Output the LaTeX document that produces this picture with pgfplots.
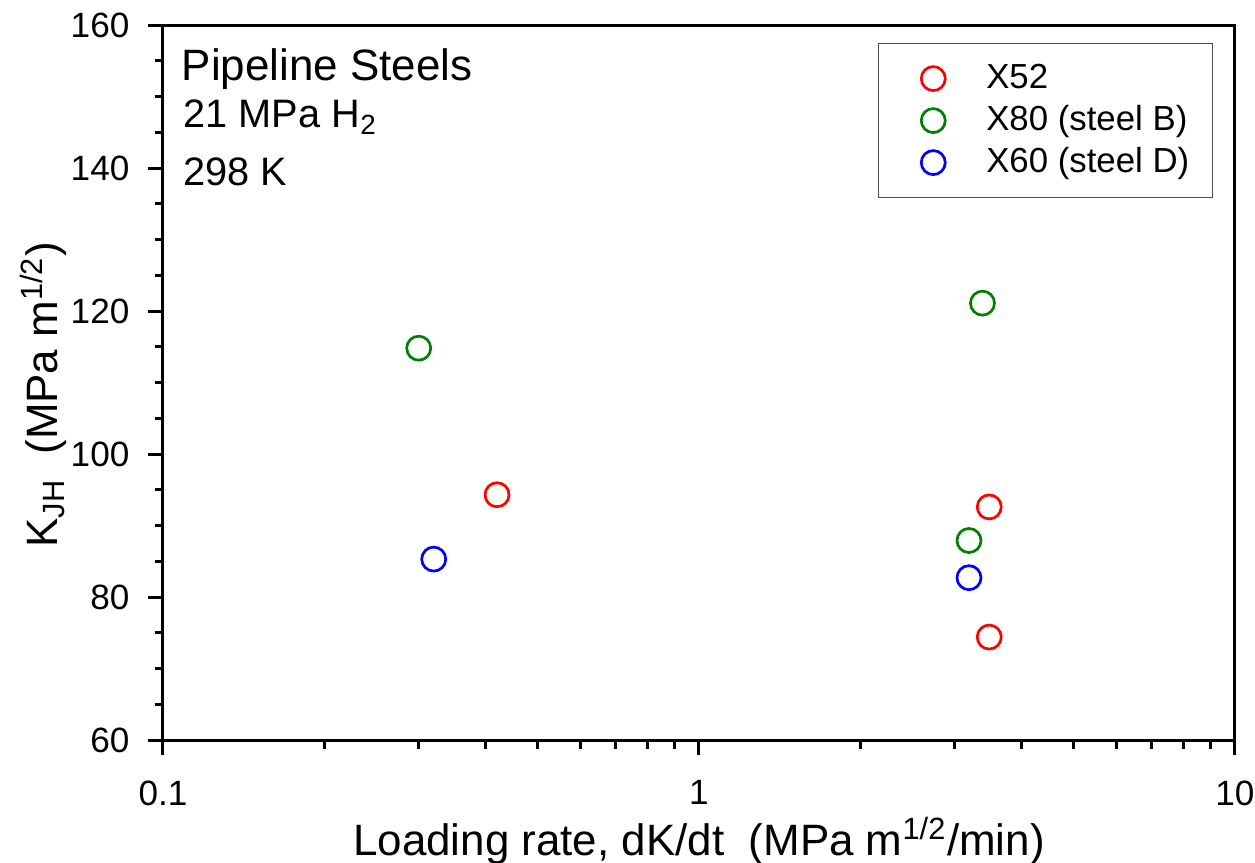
\documentclass[border=0pt]{standalone}
\usepackage{fontspec}
\setmainfont{Liberation Sans}
\usepackage{pgfplots}
\pgfplotsset{compat=1.18}

\begin{document}
\begin{tikzpicture}
\begin{axis}[
    scale only axis,
    width=107.2mm, height=71.5mm,
    xmode=log,
    xmin=0.1, xmax=10,
    ymin=60, ymax=160,
    xtick={0.1,1,10}, xticklabels={0.1,1,10},
    minor xtick={0.2,0.3,0.4,0.5,0.6,0.7,0.8,0.9,2,3,4,5,6,7,8,9},
    ytick={60,80,100,120,140,160},
    minor y tick num=3,
    tick align=outside,
    xtick pos=left, ytick pos=left,
    major tick length=1.5mm, minor tick length=0.85mm,
    axis line style={line width=0.85pt},
    every tick/.style={black, line width=0.85pt},
    /pgf/number format/assume math mode=true,
    tick label style={font=\fontsize{10}{12}\selectfont, inner sep=0pt},
    xticklabel style={anchor=north, yshift=-2.5mm},
    yticklabel style={anchor=east, xshift=-1.8mm},
    label style={font=\fontsize{12.5}{15}\selectfont},
    xlabel={Loading rate, dK/dt\ \ (MPa m\textsuperscript{1/2}/min)},
    ylabel={K\textsubscript{JH}\ \ (MPa m\textsuperscript{1/2})},
    xlabel style={at={(axis description cs:0.5,-0.161)}, anchor=base},
    ylabel style={at={(axis description cs:-0.098,0.483)}, anchor=base},
    legend style={at={(0.9795,0.975)}, anchor=north east,
        draw=black!70, line width=0.4pt,
        inner xsep=2.3mm, inner ysep=1.85mm,
        font=\fontsize{9.9}{12}\selectfont,
        nodes={inner sep=0pt, text height=2.6mm, text depth=0.7mm},
        row sep=0.9mm, column sep=2.1mm,
        cells={anchor=west}},
    legend image code/.code={%
        \draw[#1] plot coordinates {(3.2mm,0mm)};
        \path[draw=none, fill=none] (0mm,0mm) (6.4mm,0mm);},
]
% X52
\addplot[only marks, mark=o, color=red, mark size=1.2mm, mark options={line width=0.77pt}]
    coordinates {(0.42,94.3) (3.48,92.6) (3.48,74.4)};
\addlegendentry{X52}
% X80 (steel B)
\addplot[only marks, mark=o, color=green!50!black, mark size=1.2mm, mark options={line width=0.77pt}]
    coordinates {(0.30,114.8) (3.38,121.1) (3.19,87.9)};
\addlegendentry{X80 (steel B)}
% X60 (steel D)
\addplot[only marks, mark=o, color=blue, mark size=1.2mm, mark options={line width=0.77pt}]
    coordinates {(0.32,85.3) (3.19,82.7)};
\addlegendentry{X60 (steel D)}

\node[anchor=base west, inner sep=0pt, font=\fontsize{12.5}{15}\selectfont]
    at (rel axis cs:0.0168,0.923) {Pipeline Steels};
\node[anchor=base west, inner sep=0pt, font=\fontsize{11.3}{14}\selectfont]
    at (rel axis cs:0.0187,0.856) {21 MPa H\textsubscript{2}};
\node[anchor=base west, inner sep=0pt, font=\fontsize{11.3}{14}\selectfont]
    at (rel axis cs:0.0187,0.776) {298 K};
\end{axis}
\pgfresetboundingbox
\path (-16.3mm,-12.2mm) rectangle (109.2mm,74mm);
\end{tikzpicture}
\end{document}
